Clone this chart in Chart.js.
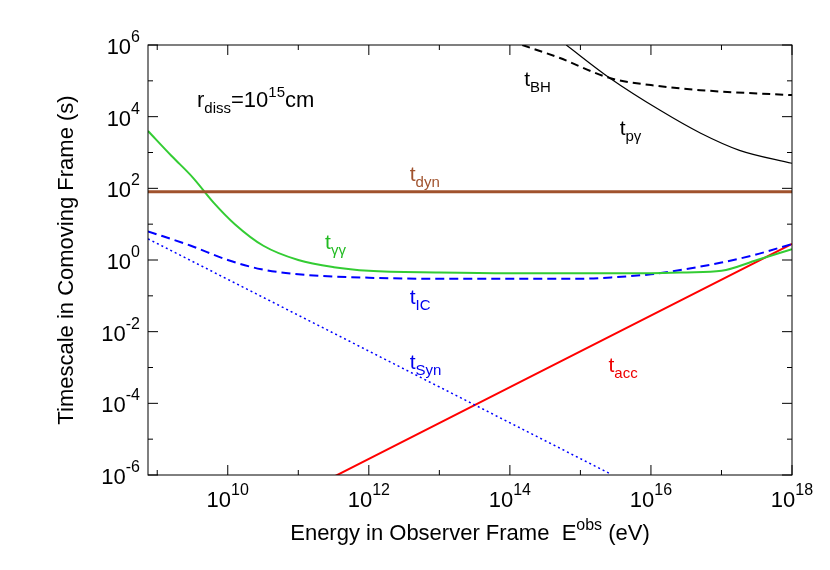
<!DOCTYPE html>
<html><head><meta charset="utf-8">
<script src="https://cdn.jsdelivr.net/npm/chart.js@4"></script>
<style>html,body{margin:0;background:#fff;overflow:hidden}#w{width:830px;height:570px}</style>
</head><body><div id="w"><canvas id="c"></canvas></div>
<script>
// energies (eV) and timescales (s)
const accE=[2.6e11,1e18], accT=[7.3e-7,2.8e0];
const synE=[7.4e8,2.6e15], synT=[3.9e0,1.1e-6];
const icE=[7.4e8,3e9,1e10,3e10,1e11,1e12,1e13,1e14,1e15,3e15,1e16,3e16,1e17,3e17,1e18];
const icT=[6.3,2.5,1.0,0.55,0.4,0.32,0.3,0.3,0.3,0.33,0.4,0.55,0.85,1.4,2.8];
const ggE=[7.4e8,1.6e9,3.2e9,6.3e9,1.26e10,3.2e10,1e11,3.2e11,1e12,1e13,1e14,1e15,1e16,3.2e16,1e17,3.2e17,1e18];
const ggT=[4000,800,200,40,10,2.5,1.0,0.63,0.5,0.45,0.43,0.43,0.43,0.45,0.5,1.0,2.0];
const dynE=[7.4e8,1e18], dynT=[80,80];
const bhE=[1.5e14,5e14,2.6e15,1e16,5e16,1e18];
const bhT=[1e6,4.4e5,1.2e5,7.6e4,5.5e4,4e4];
const pgE=[6.3e14,2.6e15,1.35e16,5e16,1.8e17,1e18];
const pgT=[1e6,1.2e5,1.5e4,3.5e3,1.15e3,500];
const xTicks=[1e10,1e12,1e14,1e16,1e18], xTickLabels=['10','12','14','16','18'];
const yTicks=[1e-6,1e-4,1e-2,1,1e2,1e4,1e6], yTickLabels=['-6','-4','-2','0','2','4','6'];
const labels=[
 {t:'t',s:'BH',x:1.6e14,y:7e4,c:'#000'},
 {t:'t',s:'pγ',x:3.6e15,y:3e3,c:'#000'},
 {t:'t',s:'dyn',x:3.8e12,y:165,c:'#a0522d'},
 {t:'t',s:'γγ',x:2.4e11,y:2,c:'#22bb22'},
 {t:'t',s:'IC',x:3.8e12,y:0.06,c:'#0000ee'},
 {t:'t',s:'Syn',x:3.8e12,y:9e-4,c:'#0000ee'},
 {t:'t',s:'acc',x:2.5e15,y:7.4e-4,c:'#ee0000'}
];
const mk=(E,T)=>E.map((e,i)=>({x:e,y:T[i]}));
const F='"Liberation Sans",Arial,sans-serif';
const ds=(E,T,c,w,dash)=>({data:mk(E,T),borderColor:c,borderWidth:w,borderDash:dash||[],pointRadius:0,fill:false,cubicInterpolationMode:'monotone'});
const plug={id:'p',afterDraw(ch){
 const g=ch.ctx,a=ch.chartArea,xs=ch.scales.x,ys=ch.scales.y;
 g.save();g.strokeStyle='#000';g.lineWidth=1;g.strokeRect(a.left,a.top,a.right-a.left,a.bottom-a.top);
 g.beginPath();
 for(let e=9;e<=18;e++){const v=Math.pow(10,e);if(v<xs.min)continue;const px=xs.getPixelForValue(v);const L=e%2==0?10:5;
  g.moveTo(px,a.bottom);g.lineTo(px,a.bottom-L);g.moveTo(px,a.top);g.lineTo(px,a.top+L);}
 for(let e=-6;e<=6;e++){const py=ys.getPixelForValue(Math.pow(10,e));const L=e%2==0?10:5;
  g.moveTo(a.left,py);g.lineTo(a.left+L,py);g.moveTo(a.right,py);g.lineTo(a.right-L,py);}
 g.stroke();
 g.fillStyle='#000';g.textBaseline='alphabetic';
 xTicks.forEach((v,i)=>{const px=xs.getPixelForValue(v);g.font='22px '+F;const w1=g.measureText('10').width;g.font='16px '+F;const w2=g.measureText(xTickLabels[i]).width;
  const x0=px-(w1+w2)/2;g.font='22px '+F;g.textAlign='left';g.fillText('10',x0,a.bottom+32);g.font='16px '+F;g.fillText(xTickLabels[i],x0+w1,a.bottom+20);});
 yTicks.forEach((v,i)=>{const py=ys.getPixelForValue(v);g.font='16px '+F;g.textAlign='right';g.fillText(yTickLabels[i],a.left-8,py-3);
  const w2=g.measureText(yTickLabels[i]).width;g.font='22px '+F;g.fillText('10',a.left-8-w2,py+9);});
 g.font='22px '+F;g.textAlign='left';
 let s1='Energy in Observer Frame  E',s2='obs',s3=' (eV)';
 let w1=g.measureText(s1).width;g.font='16px '+F;let w2=g.measureText(s2).width;g.font='22px '+F;let w3=g.measureText(s3).width;
 let x0=(a.left+a.right)/2-(w1+w2+w3)/2,yb=a.bottom+65;
 g.fillText(s1,x0,yb);g.font='16px '+F;g.fillText(s2,x0+w1,yb-10);g.font='22px '+F;g.fillText(s3,x0+w1+w2,yb);
 g.save();g.translate(a.left-75,(a.top+a.bottom)/2);g.rotate(-Math.PI/2);g.textAlign='center';g.fillText('Timescale in Comoving Frame (s)',0,0);g.restore();
 g.textAlign='left';g.font='22px '+F;let X=197,Y=107;g.fillText('r',X,Y);X+=g.measureText('r').width;
 g.font='15px '+F;g.fillText('diss',X,Y+6);X+=g.measureText('diss').width;g.font='22px '+F;g.fillText('=10',X,Y);X+=g.measureText('=10').width;
 g.font='15px '+F;g.fillText('15',X,Y-10);X+=g.measureText('15').width;g.font='22px '+F;g.fillText('cm',X,Y);
 labels.forEach(l=>{const px=xs.getPixelForValue(l.x),py=ys.getPixelForValue(l.y);g.fillStyle=l.c;g.font='21px '+F;g.fillText(l.t,px,py);
  const w=g.measureText(l.t).width;g.font='15px '+F;g.fillText(l.s,px+w,py+6);});
 g.restore();}};
new Chart(document.getElementById('c'),{type:'line',
 data:{datasets:[ds(dynE,dynT,'#a0522d',3),ds(ggE,ggT,'#33cc33',2),ds(icE,icT,'#0000ff',2,[9,5]),ds(synE,synT,'#0000ff',1.5,[2,3]),
  ds(accE,accT,'#ff0000',2),ds(bhE,bhT,'#000',2,[8,5]),ds(pgE,pgT,'#000',1.2)]},
 options:{responsive:true,maintainAspectRatio:false,animation:false,
  layout:{padding:{left:148,right:38,top:45,bottom:95}},
  plugins:{legend:{display:false},tooltip:{enabled:false}},
  scales:{x:{type:'logarithmic',min:7.4e8,max:1e18,display:false},y:{type:'logarithmic',min:1e-6,max:1e6,display:false}}},
 plugins:[plug]});
</script></body></html>
